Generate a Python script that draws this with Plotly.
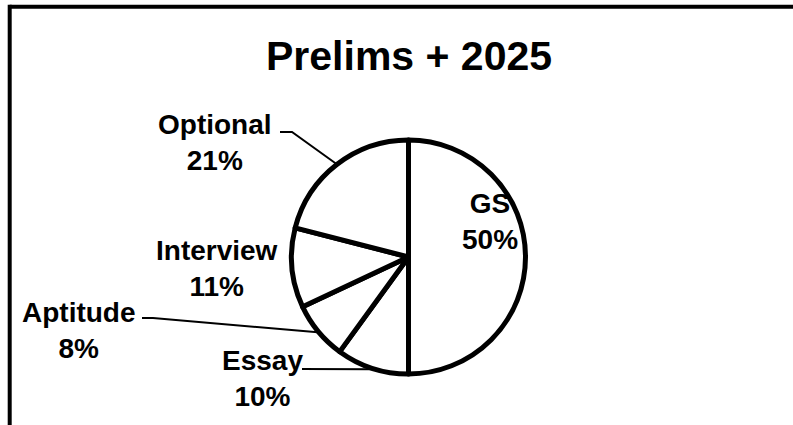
import math
import plotly.graph_objects as go

# ---- data ----
labels = ["GS", "Essay", "Aptitude", "Interview", "Optional"]
values = [50, 10, 8, 11, 21]
title_text = "Prelims + 2025"

# ---- layout (pixel positions of label blocks) ----
W, H = 793, 425
FONT = "Liberation Sans, Arial, sans-serif"
cx, cy, R = 408.5, 257.0, 117.0          # pie centre / radius in px
label_pos = {                             # centre of each label block (px)
    "GS": (490, 221),
    "Essay": (262, 378),
    "Aptitude": (79, 330),
    "Interview": (217, 268),
    "Optional": (215, 142),
}
leader_start = {                          # start of the leader line: (x_text_end, x_elbow, y)
    "Optional": (280, 292, 132),
    "Aptitude": (142, 153, 318),
    "Essay": (302, 302, 369),
}

def px(x):
    return x / W

def py(y):
    return 1 - y / H

fig = go.Figure(go.Pie(
    labels=labels,
    values=values,
    sort=False,
    direction="clockwise",
    rotation=0,
    textinfo="none",
    hoverinfo="label+percent",
    marker=dict(colors=["white"] * len(labels), line=dict(color="black", width=5)),
    domain=dict(x=[px(cx - R), px(cx + R)], y=[py(cy + R), py(cy - R)]),
    showlegend=False,
))

total = sum(values)
annotations = []
shapes = []
cum = 0.0
for lab, val in zip(labels, values):
    pct = round(100 * val / total)
    mid = (cum + val / 2) / total * 2 * math.pi
    cum += val
    lx, ly = label_pos[lab]
    annotations.append(dict(
        x=px(lx), y=py(ly), xref="paper", yref="paper",
        text=f"<b>{lab}<br>{pct}%</b>", showarrow=False,
        xanchor="center", yanchor="middle", align="center",
        font=dict(family=FONT, size=28, color="black"),
    ))
    if lab in leader_start:
        ax = cx + (R + 1) * math.sin(mid)
        ay = cy - (R + 1) * math.cos(mid)
        x0, x1, y0 = leader_start[lab]
        path = f"M {px(x0)} {py(y0)} L {px(x1)} {py(y0)} L {px(ax)} {py(ay)}"
        shapes.append(dict(type="path", path=path, xref="paper", yref="paper",
                           line=dict(color="black", width=2)))

annotations.append(dict(
    x=px(408.5), y=py(56), xref="paper", yref="paper",
    text=f"<b>{title_text}</b>", showarrow=False,
    xanchor="center", yanchor="middle",
    font=dict(family=FONT, size=41, color="black"),
))

# outer frame: only the left and top edges are inside the picture
shapes.append(dict(type="line", xref="paper", yref="paper",
                   x0=px(9.7), x1=1.0, y0=py(6.7), y1=py(6.7),
                   line=dict(color="black", width=4), layer="above"))
shapes.append(dict(type="line", xref="paper", yref="paper",
                   x0=px(9.7), x1=px(9.7), y0=0.0, y1=py(4.7),
                   line=dict(color="black", width=4), layer="above"))

fig.update_layout(
    width=W, height=H,
    margin=dict(l=0, r=0, t=0, b=0),
    paper_bgcolor="white", plot_bgcolor="white",
    annotations=annotations, shapes=shapes,
)

fig.write_html("out.html",
               config={"displayModeBar": False},
               post_script="document.body.style.margin='0';document.body.style.overflow='hidden';")
